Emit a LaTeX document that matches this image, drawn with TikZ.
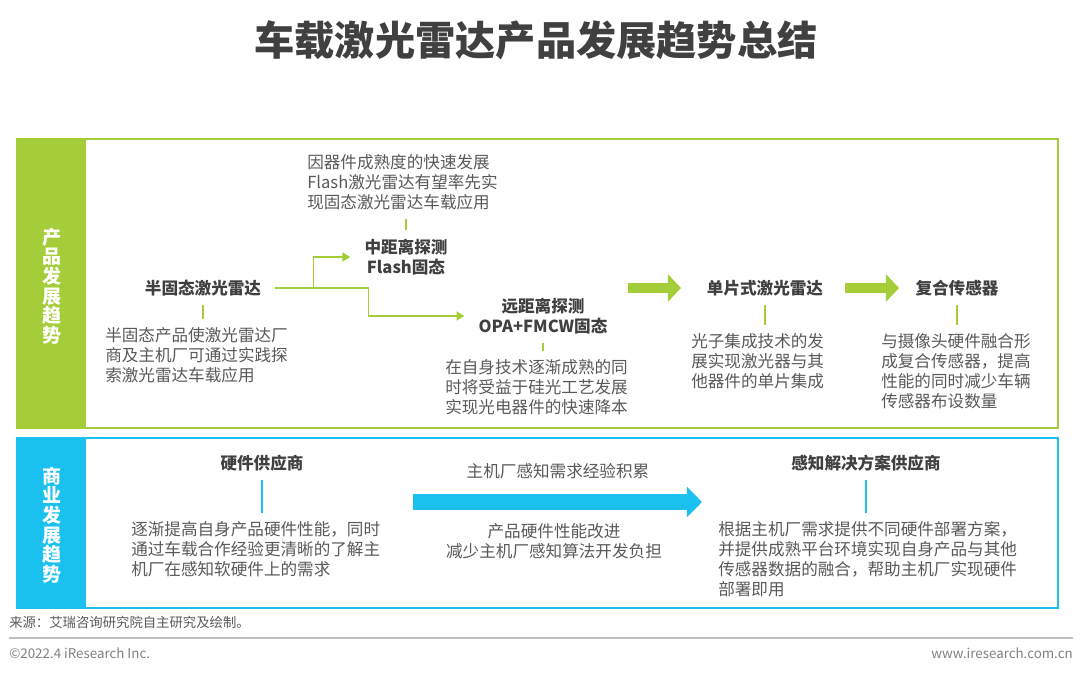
\documentclass[tikz,border=0pt]{standalone}
\usepackage{xcolor}
\usepackage{fontspec}
\setmainfont{Noto Sans CJK SC}
\usepackage{tikz}
\usetikzlibrary{arrows.meta, positioning}
\definecolor{trendgreen}{HTML}{A5CD39}
\definecolor{trendblue}{HTML}{1BC1EE}
\definecolor{textgray}{HTML}{595959}
\definecolor{headgray}{HTML}{404040}
\definecolor{footgray}{HTML}{808080}
\definecolor{rulegray}{HTML}{BFBFBF}
\tikzstyle{headtxt} = [inner sep=0pt, align=center, font=\fontsize{11.8}{14.3}\selectfont\bfseries, text=headgray]
\tikzstyle{plaintxt} = [inner sep=0pt, align=center, font=\fontsize{11.8}{14}\selectfont, text=textgray]
\tikzstyle{desctxt} = [inner sep=0pt, align=left, anchor=north west, font=\fontsize{11.8}{14.3}\selectfont, text=textgray]
\tikzstyle{sidetxt} = [inner sep=0pt, align=center, font=\fontsize{13.5}{14}\selectfont\bfseries, text=white]
\tikzstyle{foottxt} = [inner sep=0pt, font=\fontsize{9.5}{11}\selectfont, text=footgray]
\tikzstyle{stem} = [line width=0.8pt, shorten <=6pt, shorten >=6pt]
\tikzstyle{branch} = [trendgreen, line width=1pt, shorten <=10pt, shorten >=10pt, -{Triangle[length=5.5pt, width=6.5pt]}]
\tikzstyle{bigarrow} = [line width=7.3pt, -{Triangle[length=9.3pt, width=19pt]}]
\tikzstyle{flowarrow} = [line width=10.7pt, -{Triangle[length=10.7pt, width=21pt]}]

\begin{document}
\begin{tikzpicture}[x=0.025cm, y=-0.025cm]
  \useasboundingbox (0,0) rectangle (1080,673);
  \node (title) [font=\fontsize{28.6}{30}\selectfont\bfseries, text=headgray] at (536,40) {车载激光雷达产品发展趋势总结};

  % product trend panel
  \fill[trendgreen] (17,139) rectangle (86,428);
  \draw[trendgreen, line width=2pt] (17,139) rectangle (1058,428);
  \node (prodside) [sidetxt] at (52,286) {产\\品\\发\\展\\趋\\势};

  \node (semi)   [headtxt] at (203,288) {半固态激光雷达};
  \node (mid)    [headtxt] at (406,257) {中距离探测\\Flash固态};
  \node (far)    [headtxt] at (543,316) {远距离探测\\OPA+FMCW固态};
  \node (mono)   [headtxt] at (765,288) {单片式激光雷达};
  \node (fusion) [headtxt] at (957,288) {复合传感器};

  \node (semidesc)   [desctxt] at (105,327) {半固态产品使激光雷达厂\\商及主机厂可通过实践探\\索激光雷达车载应用};
  \node (middesc)    [desctxt] at (307,154) {因器件成熟度的快速发展\\Flash激光雷达有望率先实\\现固态激光雷达车载应用};
  \node (fardesc)    [desctxt] at (445,359) {在自身技术逐渐成熟的同\\时将受益于硅光工艺发展\\实现光电器件的快速降本};
  \node (monodesc)   [desctxt] at (691,333) {光子集成技术的发\\展实现激光器与其\\他器件的单片集成};
  \node (fusiondesc) [desctxt] at (881,333) {与摄像头硬件融合形\\成复合传感器，提高\\性能的同时减少车辆\\传感器布设数量};

  \draw[stem, trendgreen] (semi.south) -- (semi.south |- semidesc.north);
  \draw[stem, trendgreen] (mid.north) -- (mid.north |- middesc.south);
  \draw[stem, trendgreen] (far.south) -- (far.south |- fardesc.north);
  \draw[stem, trendgreen] (mono.south) -- (mono.south |- monodesc.north);
  \draw[stem, trendgreen] (fusion.south) -- (fusion.south |- fusiondesc.north);

  \draw[branch] (semi.east) -- ++(52,0) |- (mid.west);
  \draw[branch] (semi.east) -- ++(107,0) |- (far.west);

  \coordinate (gA1) at (628,288);
  \coordinate (gA2) at (681,288);
  \coordinate (gB1) at (845,288);
  \coordinate (gB2) at (899,288);
  \draw[bigarrow, trendgreen] (gA1) -- (gA2);
  \draw[bigarrow, trendgreen] (gB1) -- (gB2);

  % business trend panel
  \fill[trendblue] (17,438) rectangle (86,608);
  \draw[trendblue, line width=2pt] (17,438) rectangle (1058,608);
  \node (bizside) [sidetxt] at (52,525) {商\\业\\发\\展\\趋\\势};

  \node (hw)  [headtxt] at (262,463) {硬件供应商};
  \node (sol) [headtxt] at (866,463) {感知解决方案供应商};
  \node (hwdesc)  [desctxt] at (131,521) {逐渐提高自身产品硬件性能，同时\\通过车载合作经验更清晰的了解主\\机厂在感知软硬件上的需求};
  \node (soldesc) [desctxt] at (718,521) {根据主机厂需求提供不同硬件部署方案，\\并提供成熟平台环境实现自身产品与其他\\传感器数据的融合，帮助主机厂实现硬件\\部署即用};

  \draw[stem, trendblue] (hw.south) -- (hw.south |- hwdesc.north);
  \draw[stem, trendblue] (sol.south) -- (sol.south |- soldesc.north);

  \node (accum) [plaintxt] at (558,471) {主机厂感知需求经验积累};
  \node (gain)  [plaintxt] at (554,541) {产品硬件性能改进\\减少主机厂感知算法开发负担};
  \coordinate (flowA) at (413,502);
  \coordinate (flowB) at (702,502);
  \draw[flowarrow, trendblue] (flowA) -- (flowB);

  % footer
  \node (source) [foottxt, anchor=west, text=textgray] at (9,622) {来源：艾瑞咨询研究院自主研究及绘制。};
  \draw[rulegray, line width=0.8pt] (9,638) -- (1073,638);
  \node (copy) [foottxt, anchor=west] at (9,653) {©2022.4 iResearch Inc.};
  \node (web)  [foottxt, anchor=east] at (1073,653) {www.iresearch.com.cn};
\end{tikzpicture}
\end{document}
